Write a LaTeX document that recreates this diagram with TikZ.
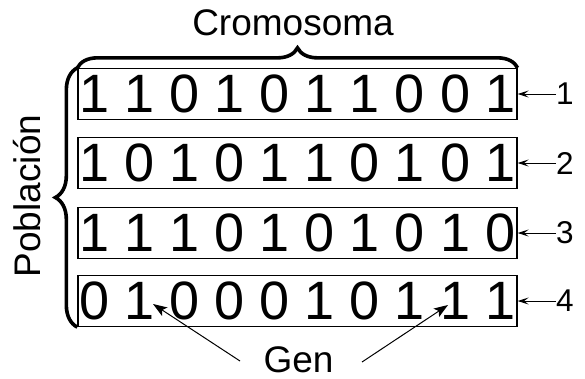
\documentclass[tikz,border=0pt]{standalone}
\usepackage{fontspec}
\setmainfont{Liberation Sans}
\usetikzlibrary{arrows.meta,decorations.pathreplacing}

\begin{document}
\begin{tikzpicture}[x=1pt,y=-1pt,
  chromo/.style={draw,line width=1.3pt,minimum width=439pt,minimum height=51pt,
    inner sep=0pt,font=\fontsize{54}{60}\selectfont},
  idx/.style={anchor=west,inner sep=0pt,font=\fontsize{31.5}{36}\selectfont},
  idxarrow/.style={line width=1pt,-{Stealth[length=11pt,width=7pt,inset=4.5pt]}},
  genarrow/.style={line width=1pt,-{Stealth[length=14pt,width=10pt,inset=3pt]}},
  bigbrace/.style={line width=3.6pt,decorate,decoration={brace,amplitude=20pt}},
  label/.style={inner sep=0pt,font=\fontsize{37}{40}\selectfont}]
  \path[use as bounding box] (0,0) rectangle (585,378);

  % population of four chromosomes
  \node[chromo] (r1) at (297.5,94)  {1 1 0 1 0 1 1 0 0 1};
  \node[chromo] (r2) at (297.5,163) {1 0 1 0 1 1 0 1 0 1};
  \node[chromo] (r3) at (297.5,233) {1 1 1 0 1 0 1 0 1 0};
  \node[chromo] (r4) at (297.5,301) {0 1 0 0 0 1 0 1 1 1};

  % individual numbers
  \node[idx] (n1) at (556,94)  {1};
  \node[idx] (n2) at (556,163) {2};
  \node[idx] (n3) at (556,233) {3};
  \node[idx] (n4) at (556,301) {4};
  \draw[idxarrow] (n1.west) -- (r1.east);
  \draw[idxarrow] (n2.west) -- (r2.east);
  \draw[idxarrow] (n3.west) -- (r3.east);
  \draw[idxarrow] (n4.west) -- (r4.east);

  % braces
  \draw[bigbrace] (r1.north west) -- (r1.north east);
  \draw[bigbrace,decoration={amplitude=22pt}] (r4.south west) -- (r1.north west);

  \node[label,anchor=base] (crom) at (293,35) {Cromosoma};
  \node[label,anchor=base,rotate=90] (pob) at (40,196) {Población};

  % genes
  \node[label,anchor=base] (gen) at (298.5,372) {Gen};
  \coordinate (sA) at (240,361);
  \coordinate (tA) at (153,304);
  \coordinate (sB) at (362,362);
  \coordinate (tB) at (448,305);
  \draw[genarrow] (sA) -- (tA);
  \draw[genarrow] (sB) -- (tB);
\end{tikzpicture}
\end{document}
